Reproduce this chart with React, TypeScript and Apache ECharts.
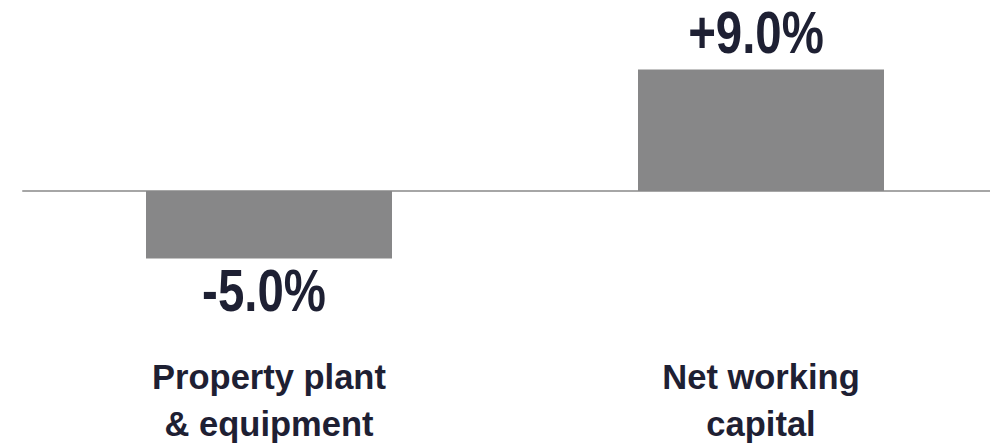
import React, { useEffect, useRef } from "react";
import * as echarts from "echarts";

const categories = ["Property plant\n& equipment", "Net working\ncapital"];
const values = [-5.0, 9.0];
const valueLabels = ["-5.0%", "+9.0%"];

export default function App() {
  const ref = useRef<HTMLDivElement>(null);
  useEffect(() => {
    const chart = echarts.init(ref.current!, null, { renderer: "svg" });
    chart.setOption({
      animation: false,
      grid: {
        left: 23,
        width: 984,
        top: 56,
        bottom: 122,
        containLabel: false,
        outerBoundsMode: "none",
      },
      xAxis: {
        type: "category",
        data: categories,
        axisLine: { onZero: true, lineStyle: { color: "#a6a6a6", width: 2 } },
        axisTick: { show: false },
        axisLabel: {
          interval: 0,
          margin: 27,
          color: "#1e2033",
          fontFamily: "'Liberation Sans', Arial, sans-serif",
          fontWeight: "bold",
          fontSize: 34.5,
          lineHeight: 47,
        },
      },
      yAxis: {
        type: "value",
        min: -10,
        max: 10,
        show: false,
        splitLine: { show: false },
      },
      series: [
        {
          type: "bar",
          data: values,
          barWidth: "50%",
          itemStyle: { color: "#878788" },
          z: 1,
        },
        {
          type: "custom",
          data: values.map((v, i) => [i, v]),
          z: 3,
          renderItem: (params: any, api: any) => {
            const v = api.value(1);
            const [x, y] = api.coord([api.value(0), v]);
            const off = v >= 0 ? -38 : 31;
            return {
              type: "text",
              x: x - 5,
              y: y + off,
              scaleX: 0.79,
              style: {
                text: valueLabels[params.dataIndex],
                fill: "#1e2033",
                fontFamily: "'Liberation Sans', Arial, sans-serif",
                fontWeight: "bold",
                fontSize: 60,
                lineHeight: 44,
                align: "center",
                verticalAlign: "middle",
              },
            };
          },
        },
      ],
    });
    return () => chart.dispose();
  }, []);
  return (
    <div
      ref={ref}
      style={{ position: "absolute", left: 0, top: 0, width: 990, height: 448 }}
    />
  );
}
